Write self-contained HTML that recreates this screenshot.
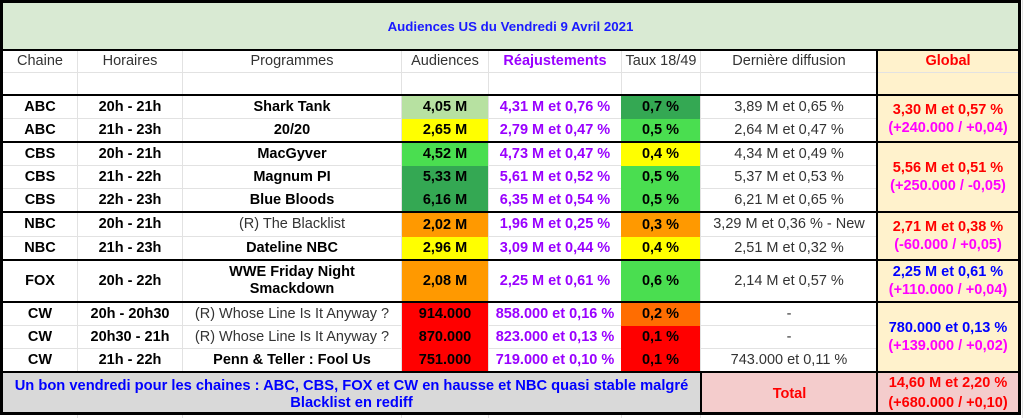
<!DOCTYPE html>
<html><head><meta charset="utf-8">
<style>
html,body{margin:0;padding:0;background:#fff;}
body{width:1024px;height:418px;position:relative;overflow:hidden;font-family:"Liberation Sans",Arial,sans-serif;}
.c{position:absolute;display:flex;align-items:center;justify-content:center;text-align:center;font-size:14.5px;line-height:17px;color:#000;font-weight:bold;box-sizing:border-box;white-space:nowrap;}
.n{font-weight:normal;color:#333;}
.l{position:absolute;}
.g{background:#e2e2e2;}
.k{background:#000;}
.pu{color:#9900ff;}
.rd{color:#ff0000;}
.mg{color:#ff00ff;}
.bl{color:#0000ff;}
.lg{background:#b7e1a1;}
.ye{background:#ffff00;}
.gr{background:#4ade50;}
.dg{background:#34a853;}
.or{background:#ff9900;}
.or2{background:#ff6d01;}
.re{background:#ff0000;}
.gb{background:#fff2cc;}
</style></head><body>

<div class="l g" style="left:1022px;top:0;width:1px;height:418px;"></div>
<div class="l g" style="left:77px;top:415px;width:1px;height:3px;"></div>
<div class="l g" style="left:182px;top:415px;width:1px;height:3px;"></div>
<div class="l g" style="left:401px;top:415px;width:1px;height:3px;"></div>
<div class="l g" style="left:488px;top:415px;width:1px;height:3px;"></div>
<div class="l g" style="left:621px;top:415px;width:1px;height:3px;"></div>
<div class="l g" style="left:700px;top:415px;width:1px;height:3px;"></div>

<div class="c bl" style="left:3px;top:3px;width:1015px;height:46px;background:#d9ead3;font-size:13.3px;color:#1a1aff;">Audiences US du Vendredi 9 Avril 2021</div>

<div class="l gb" style="left:878px;top:51px;width:140px;height:320px;"></div>

<div class="l g" style="left:3px;top:72px;width:1015px;height:1px;"></div>
<div class="l g" style="left:3px;top:118px;width:874px;height:1px;"></div>
<div class="l g" style="left:3px;top:165px;width:874px;height:1px;"></div>
<div class="l g" style="left:3px;top:188px;width:874px;height:1px;"></div>
<div class="l g" style="left:3px;top:236px;width:874px;height:1px;"></div>
<div class="l g" style="left:3px;top:325px;width:874px;height:1px;"></div>
<div class="l g" style="left:3px;top:348px;width:874px;height:1px;"></div>
<div class="l g" style="left:77px;top:51px;width:1px;height:320px;"></div>
<div class="l g" style="left:182px;top:51px;width:1px;height:320px;"></div>
<div class="l g" style="left:401px;top:51px;width:1px;height:320px;"></div>
<div class="l g" style="left:488px;top:51px;width:1px;height:320px;"></div>
<div class="l g" style="left:621px;top:51px;width:1px;height:320px;"></div>
<div class="l g" style="left:700px;top:51px;width:1px;height:320px;"></div>

<div class="c n" style="left:3px;top:51px;width:74px;height:21px;">Chaine</div>
<div class="c n" style="left:78px;top:51px;width:104px;height:21px;">Horaires</div>
<div class="c n" style="left:183px;top:51px;width:218px;height:21px;">Programmes</div>
<div class="c n" style="left:402px;top:51px;width:86px;height:21px;">Audiences</div>
<div class="c pu" style="left:489px;top:51px;width:132px;height:21px;">Réajustements</div>
<div class="c n" style="left:622px;top:51px;width:78px;height:21px;">Taux 18/49</div>
<div class="c n" style="left:701px;top:51px;width:176px;height:21px;">Dernière diffusion</div>
<div class="c rd" style="left:878px;top:51px;width:140px;height:21px;">Global</div>

<div class="c" style="left:3px;top:96px;width:74px;height:22px;">ABC</div>
<div class="c" style="left:78px;top:96px;width:104px;height:22px;">20h - 21h</div>
<div class="c" style="left:183px;top:96px;width:218px;height:22px;">Shark Tank</div>
<div class="c lg" style="left:402px;top:96px;width:86px;height:23px;">4,05 M</div>
<div class="c pu" style="left:489px;top:96px;width:132px;height:22px;">4,31 M et 0,76 %</div>
<div class="c dg" style="left:621px;top:96px;width:79px;height:23px;">0,7 %</div>
<div class="c n" style="left:701px;top:96px;width:176px;height:22px;">3,89 M et 0,65 %</div>

<div class="c" style="left:3px;top:119px;width:74px;height:22px;">ABC</div>
<div class="c" style="left:78px;top:119px;width:104px;height:22px;">21h - 23h</div>
<div class="c" style="left:183px;top:119px;width:218px;height:22px;">20/20</div>
<div class="c ye" style="left:402px;top:119px;width:86px;height:22px;">2,65 M</div>
<div class="c pu" style="left:489px;top:119px;width:132px;height:22px;">2,79 M et 0,47 %</div>
<div class="c gr" style="left:621px;top:119px;width:79px;height:22px;">0,5 %</div>
<div class="c n" style="left:701px;top:119px;width:176px;height:22px;">2,64 M et 0,47 %</div>
<div class="c" style="left:878px;top:96px;width:140px;height:45px;flex-direction:column;line-height:18px;"><span class="rd">3,30 M et 0,57 %</span><span class="mg">(+240.000 / +0,04)</span></div>

<div class="c" style="left:3px;top:143px;width:74px;height:22px;">CBS</div>
<div class="c" style="left:78px;top:143px;width:104px;height:22px;">20h - 21h</div>
<div class="c" style="left:183px;top:143px;width:218px;height:22px;">MacGyver</div>
<div class="c gr" style="left:402px;top:143px;width:86px;height:23px;">4,52 M</div>
<div class="c pu" style="left:489px;top:143px;width:132px;height:22px;">4,73 M et 0,47 %</div>
<div class="c ye" style="left:621px;top:143px;width:79px;height:23px;">0,4 %</div>
<div class="c n" style="left:701px;top:143px;width:176px;height:22px;">4,34 M et 0,49 %</div>

<div class="c" style="left:3px;top:166px;width:74px;height:22px;">CBS</div>
<div class="c" style="left:78px;top:166px;width:104px;height:22px;">21h - 22h</div>
<div class="c" style="left:183px;top:166px;width:218px;height:22px;">Magnum PI</div>
<div class="c dg" style="left:402px;top:166px;width:86px;height:23px;">5,33 M</div>
<div class="c pu" style="left:489px;top:166px;width:132px;height:22px;">5,61 M et 0,52 %</div>
<div class="c gr" style="left:621px;top:166px;width:79px;height:23px;">0,5 %</div>
<div class="c n" style="left:701px;top:166px;width:176px;height:22px;">5,37 M et 0,53 %</div>

<div class="c" style="left:3px;top:189px;width:74px;height:22px;">CBS</div>
<div class="c" style="left:78px;top:189px;width:104px;height:22px;">22h - 23h</div>
<div class="c" style="left:183px;top:189px;width:218px;height:22px;">Blue Bloods</div>
<div class="c dg" style="left:402px;top:189px;width:86px;height:22px;">6,16 M</div>
<div class="c pu" style="left:489px;top:189px;width:132px;height:22px;">6,35 M et 0,54 %</div>
<div class="c gr" style="left:621px;top:189px;width:79px;height:22px;">0,5 %</div>
<div class="c n" style="left:701px;top:189px;width:176px;height:22px;">6,21 M et 0,65 %</div>
<div class="c" style="left:878px;top:143px;width:140px;height:68px;flex-direction:column;line-height:18px;"><span class="rd">5,56 M et 0,51 %</span><span class="mg">(+250.000 / -0,05)</span></div>

<div class="c" style="left:3px;top:213px;width:74px;height:23px;">NBC</div>
<div class="c" style="left:78px;top:213px;width:104px;height:23px;">20h - 21h</div>
<div class="c n" style="left:183px;top:213px;width:218px;height:23px;">(R) The Blacklist</div>
<div class="c or" style="left:402px;top:213px;width:86px;height:24px;">2,02 M</div>
<div class="c pu" style="left:489px;top:213px;width:132px;height:23px;">1,96 M et 0,25 %</div>
<div class="c or" style="left:621px;top:213px;width:79px;height:24px;">0,3 %</div>
<div class="c n" style="left:701px;top:213px;width:176px;height:23px;">3,29 M et 0,36 % - New</div>

<div class="c" style="left:3px;top:237px;width:74px;height:22px;">NBC</div>
<div class="c" style="left:78px;top:237px;width:104px;height:22px;">21h - 23h</div>
<div class="c" style="left:183px;top:237px;width:218px;height:22px;">Dateline NBC</div>
<div class="c ye" style="left:402px;top:237px;width:86px;height:22px;">2,96 M</div>
<div class="c pu" style="left:489px;top:237px;width:132px;height:22px;">3,09 M et 0,44 %</div>
<div class="c ye" style="left:621px;top:237px;width:79px;height:22px;">0,4 %</div>
<div class="c n" style="left:701px;top:237px;width:176px;height:22px;">2,51 M et 0,32 %</div>
<div class="c" style="left:878px;top:213px;width:140px;height:46px;flex-direction:column;line-height:18px;"><span class="rd">2,71 M et 0,38 %</span><span class="mg">(-60.000 / +0,05)</span></div>

<div class="c" style="left:3px;top:261px;width:74px;height:40px;">FOX</div>
<div class="c" style="left:78px;top:261px;width:104px;height:40px;">20h - 22h</div>
<div class="c" style="left:183px;top:261px;width:218px;height:40px;flex-direction:column;"><span>WWE Friday Night</span><span>Smackdown</span></div>
<div class="c or" style="left:402px;top:261px;width:86px;height:40px;">2,08 M</div>
<div class="c pu" style="left:489px;top:261px;width:132px;height:40px;">2,25 M et 0,61 %</div>
<div class="c gr" style="left:621px;top:261px;width:79px;height:40px;">0,6 %</div>
<div class="c n" style="left:701px;top:261px;width:176px;height:40px;">2,14 M et 0,57 %</div>
<div class="c" style="left:878px;top:261px;width:140px;height:40px;flex-direction:column;line-height:18px;"><span class="bl">2,25 M et 0,61 %</span><span class="mg">(+110.000 / +0,04)</span></div>

<div class="c" style="left:3px;top:303px;width:74px;height:22px;">CW</div>
<div class="c" style="left:78px;top:303px;width:104px;height:22px;">20h - 20h30</div>
<div class="c n" style="left:183px;top:303px;width:218px;height:22px;">(R) Whose Line Is It Anyway ?</div>
<div class="c re" style="left:402px;top:303px;width:86px;height:23px;">914.000</div>
<div class="c pu" style="left:489px;top:303px;width:132px;height:22px;">858.000 et 0,16 %</div>
<div class="c or2" style="left:621px;top:303px;width:79px;height:23px;">0,2 %</div>
<div class="c n" style="left:701px;top:303px;width:176px;height:22px;">-</div>

<div class="c" style="left:3px;top:326px;width:74px;height:22px;">CW</div>
<div class="c" style="left:78px;top:326px;width:104px;height:22px;">20h30 - 21h</div>
<div class="c n" style="left:183px;top:326px;width:218px;height:22px;">(R) Whose Line Is It Anyway ?</div>
<div class="c re" style="left:402px;top:326px;width:86px;height:23px;">870.000</div>
<div class="c pu" style="left:489px;top:326px;width:132px;height:22px;">823.000 et 0,13 %</div>
<div class="c re" style="left:621px;top:326px;width:79px;height:23px;">0,1 %</div>
<div class="c n" style="left:701px;top:326px;width:176px;height:22px;">-</div>

<div class="c" style="left:3px;top:349px;width:74px;height:22px;">CW</div>
<div class="c" style="left:78px;top:349px;width:104px;height:22px;">21h - 22h</div>
<div class="c" style="left:183px;top:349px;width:218px;height:22px;">Penn &amp; Teller : Fool Us</div>
<div class="c re" style="left:402px;top:349px;width:86px;height:22px;">751.000</div>
<div class="c pu" style="left:489px;top:349px;width:132px;height:22px;">719.000 et 0,10 %</div>
<div class="c re" style="left:621px;top:349px;width:79px;height:22px;">0,1 %</div>
<div class="c n" style="left:701px;top:349px;width:176px;height:22px;">743.000 et 0,11 %</div>
<div class="c" style="left:878px;top:303px;width:140px;height:68px;flex-direction:column;line-height:18px;"><span class="bl">780.000 et 0,13 %</span><span class="mg">(+139.000 / +0,02)</span></div>

<div class="c bl" style="left:3px;top:373px;width:697px;height:39px;background:#d9d9d9;flex-direction:column;line-height:17px;font-size:14.7px;padding-top:4px;"><span>Un bon vendredi pour les chaines : ABC, CBS, FOX et CW en hausse et NBC quasi stable malgré</span><span>Blacklist en rediff</span></div>
<div class="c rd" style="left:702px;top:373px;width:175px;height:39px;background:#f4cccc;padding-top:4px;">Total</div>
<div class="c rd" style="left:878px;top:373px;width:140px;height:39px;background:#f4cccc;flex-direction:column;line-height:20px;"><span>14,60 M et 2,20 %</span><span>(+680.000 / +0,10)</span></div>

<div class="l k" style="left:0;top:0;width:1021px;height:3px;"></div>
<div class="l k" style="left:0;top:0;width:3px;height:415px;"></div>
<div class="l k" style="left:1018px;top:0;width:3px;height:415px;"></div>
<div class="l k" style="left:0;top:412px;width:1021px;height:3px;"></div>
<div class="l k" style="left:0;top:49px;width:1021px;height:2px;"></div>
<div class="l k" style="left:0;top:94px;width:1021px;height:2px;"></div>
<div class="l k" style="left:0;top:141px;width:1021px;height:2px;"></div>
<div class="l k" style="left:0;top:211px;width:1021px;height:2px;"></div>
<div class="l k" style="left:0;top:259px;width:1021px;height:2px;"></div>
<div class="l k" style="left:0;top:301px;width:1021px;height:2px;"></div>
<div class="l k" style="left:0;top:371px;width:1021px;height:2px;"></div>
<div class="l k" style="left:876px;top:51px;width:2px;height:362px;"></div>
<div class="l k" style="left:700px;top:371px;width:2px;height:42px;"></div>

</body></html>
